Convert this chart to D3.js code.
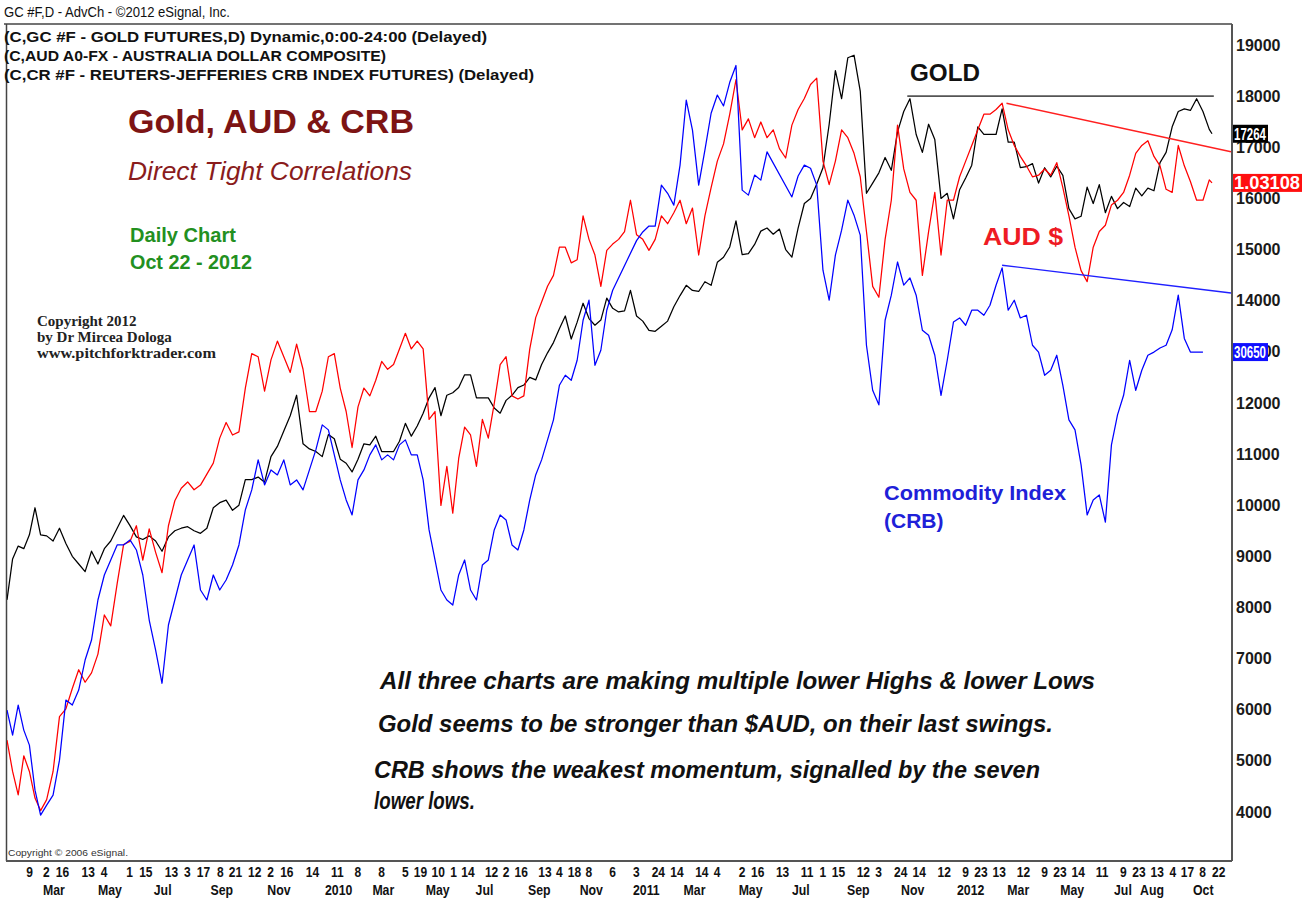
<!DOCTYPE html>
<html><head><meta charset="utf-8">
<script src="https://cdn.jsdelivr.net/npm/d3@7"></script>
<style>
html,body{margin:0;padding:0;background:#fff;}
svg{display:block;}
</style></head><body>
<svg id="chart" width="1308" height="899"></svg>
<script>
// ================= DATA =================
// weekly closes (Fridays) from 16 Jan 2009, last point = 22 Oct 2012
const weekDates = d3.timeFriday.range(new Date(2009, 0, 16), new Date(2012, 9, 20)).concat([new Date(2012, 9, 22)]);

// Gold futures, in the units of the price axis (GC x10)
const goldValues = [
  8150, 8950, 9200, 9150, 9420, 9950, 9420, 9400, 9300, 9550,
  9250, 9000, 8850, 8700, 9100, 8850, 9150, 9300, 9550, 9800,
  9600, 9380, 9330, 9400, 9300, 9100, 9380, 9500, 9550, 9580,
  9500, 9450, 9550, 9950, 10050, 10100, 9900, 10000, 10500, 10500,
  10550, 10450, 10950, 11150, 11450, 11750, 12150, 11200, 11100, 11050,
  10950, 11380, 11300, 10900, 10820, 10650, 10900, 11200, 11180, 11350,
  11050, 11050, 11050, 11250, 11600, 11350, 11550, 11800, 12100, 12300,
  11750, 12150, 12200, 12300, 12550, 12550, 12100, 12100, 12100, 11900,
  11800, 12050, 12150, 12300, 12350, 12500, 12450, 12750, 12980, 13180,
  13450, 13700, 13250, 13580, 13950, 13650, 13520, 13620, 14050, 13850,
  13780, 13800, 14200, 13700, 13600, 13420, 13400, 13500, 13600, 13880,
  14100, 14300, 14200, 14180, 14370, 14300, 14750, 14850, 15050, 15560,
  14900, 14920, 15100, 15360, 15420, 15300, 15400, 15000, 14850, 15420,
  15900, 16000, 16280, 16600, 17450, 18500, 17950, 18750, 18800, 18100,
  16100, 16300, 16500, 16800, 16550, 17300, 17700, 17950, 17250, 16900,
  17450, 17150, 16000, 16100, 15600, 16170, 16400, 16650, 17400, 17250,
  17250, 17250, 17750, 17100, 17100, 16600, 16620, 16680, 16300, 16600,
  16420, 16630, 16450, 15800, 15600, 15650, 16220, 15900, 16270, 15720,
  16040, 15800, 15920, 15840, 16200, 16050, 16200, 16150, 16700, 16900,
  17400, 17700, 17750, 17720, 17950, 17700, 17350, 17264
];

// Australian dollar composite (USD per AUD)
const audValues = [
  0.675, 0.655, 0.640, 0.665, 0.655, 0.638, 0.630, 0.637, 0.655, 0.690,
  0.695, 0.708, 0.720, 0.712, 0.718, 0.730, 0.755, 0.748, 0.775, 0.800,
  0.802, 0.812, 0.790, 0.810, 0.795, 0.782, 0.812, 0.828, 0.836, 0.840,
  0.835, 0.838, 0.845, 0.852, 0.868, 0.878, 0.870, 0.872, 0.900, 0.922,
  0.920, 0.898, 0.918, 0.930, 0.920, 0.910, 0.928, 0.912, 0.885, 0.885,
  0.898, 0.920, 0.922, 0.900, 0.885, 0.862, 0.888, 0.900, 0.895, 0.905,
  0.917, 0.912, 0.915, 0.925, 0.935, 0.925, 0.930, 0.925, 0.880, 0.885,
  0.825, 0.850, 0.820, 0.855, 0.875, 0.870, 0.850, 0.880, 0.868, 0.890,
  0.915, 0.920, 0.895, 0.893, 0.895, 0.925, 0.945, 0.955, 0.965, 0.972,
  0.990, 0.990, 0.980, 0.982, 1.010, 0.995, 0.985, 0.965, 0.988, 0.992,
  0.995, 1.000, 1.020, 0.998, 0.995, 0.988, 0.995, 1.010, 1.005, 1.012,
  1.020, 1.005, 1.015, 0.985, 1.010, 1.028, 1.045, 1.056, 1.075, 1.097,
  1.065, 1.072, 1.060, 1.070, 1.060, 1.065, 1.053, 1.047, 1.068, 1.078,
  1.085, 1.094, 1.098, 1.045, 1.030, 1.045, 1.065, 1.060, 1.050, 1.035,
  1.000, 0.965, 0.958, 0.995, 1.020, 1.068, 1.040, 1.025, 1.020, 0.972,
  1.000, 1.025, 0.985, 1.020, 1.020, 1.035, 1.045, 1.055, 1.065, 1.075,
  1.075, 1.078, 1.082, 1.065, 1.055, 1.048, 1.042, 1.035, 1.036, 1.040,
  1.036, 1.044, 1.028, 1.010, 0.990, 0.975, 0.968, 0.990, 1.000, 1.004,
  1.017, 1.020, 1.025, 1.036, 1.050, 1.055, 1.058, 1.048, 1.042, 1.027,
  1.025, 1.055, 1.042, 1.032, 1.020, 1.020, 1.033, 1.03108
];

// Reuters-Jefferies CRB index futures (null = no data, line bridges the gap)
const crbValues = [
  227.8, 222.3, 228.9, 223.4, 220.1, 210.2, 204.7, 206.9, 209.1, 216.8,
  230.0, 228.9, 232.2, 238.8, 243.2, 252.0, 257.5, 260.8, 264.1, 264.1,
  265.2, 263.0, 257.5, 247.6, 241.0, 233.7, 246.5, 252.0, 257.5, 260.8,
  264.1, 254.2, 252.0, 257.5, 254.2, 256.4, 259.7, 264.1, 271.8, 276.2,
  282.8, 277.3, 280.6, 279.5, 282.8, 277.3, 278.4, 276.2, 280.6, 285.0,
  290.5, 289.4, 283.9, 278.4, 274.0, 270.7, 278.4, 280.6, 283.9, 286.1,
  282.8, 283.9, 282.8, 286.1, 287.2, 283.9, 283.9, 278.4, 267.4, 260.8,
  254.2, 252.0, 250.9, 257.5, 260.8, 254.2, 252.0, 259.7, 260.8, 267.4,
  270.7, 269.6, 264.1, 263.0, 267.4, 274.0, 279.5, 282.8, 287.2, 291.6,
  299.2, 301.4, 300.3, 304.7, 313.5, 317.9, 303.6, 306.9, 315.7, 320.1,
  null, null, null, 331.0, 332.9, 334.2, 334.2, 343.2, 341.4, 338.8,
  347.6, 361.9, 355.3, 343.2, 350.9, 359.0, 363.0, 360.6, 365.8, 369.5,
  342.1, 341.0, 345.4, 344.3, 350.5, null, null, null, 340.6, 345.2,
  347.6, 346.9, 343.2, 324.5, 317.9, 327.8, 333.3, 339.9, 336.6, 332.2,
  308.0, 298.1, 294.9, 313.5, 319.0, 326.3, 321.2, 322.8, 319.0, 311.3,
  310.2, 305.8, 297.0, 304.7, 313.1, 314.0, 312.4, 315.7, 315.7, 314.6,
  316.8, 321.2, 325.0, 315.7, 317.9, 314.0, 314.6, 308.0, 306.5, 301.4,
  302.5, 305.8, 299.2, 291.6, 289.4, 281.7, 270.7, 274.0, 275.1, 269.1,
  286.1, 292.7, 297.0, 304.7, 298.1, 302.5, 305.8, 306.5, 307.4, 308.0,
  311.4, 319.0, 309.5, 306.5, 306.5, 306.5, null, null
];

// last prices shown in the axis boxes
const lastGold = 17264, lastAud = 1.03108, lastCrb = 306.50;

// hand-drawn trend lines: [date, value]
const goldResistance = [["2011-11-08", 18000], ["2012-10-24", 18000]];
const audTrend = [["2012-02-29", 1.082], ["2012-11-12", 1.051]];
const crbTrend = [["2012-02-24", 325.6], ["2012-11-12", 319.5]];

// axis ticks
const yTicks = [4000, 5000, 6000, 7000, 8000, 9000, 10000, 11000, 12000, 13000, 14000, 15000, 16000, 17000, 18000, 19000];
const dayTickDates = ["2009-02-09","2009-03-02","2009-03-16","2009-04-13","2009-05-04","2009-06-01","2009-06-15","2009-07-13","2009-08-03","2009-08-17","2009-09-08","2009-09-21","2009-10-12","2009-11-02","2009-11-16","2009-12-14","2010-01-11","2010-02-08","2010-03-08","2010-04-05","2010-04-19","2010-05-10","2010-06-01","2010-06-14","2010-07-12","2010-08-02","2010-08-16","2010-09-13","2010-10-04","2010-10-18","2010-11-08","2010-12-06","2011-01-03","2011-01-24","2011-02-14","2011-03-14","2011-04-04","2011-05-02","2011-05-16","2011-06-13","2011-07-11","2011-08-01","2011-08-15","2011-09-12","2011-10-03","2011-10-24","2011-11-14","2011-12-12","2012-01-09","2012-01-23","2012-02-13","2012-03-12","2012-04-09","2012-04-23","2012-05-14","2012-06-11","2012-07-09","2012-07-23","2012-08-13","2012-09-04","2012-09-17","2012-10-08","2012-10-22"];
const monthTickDates = ["2009-03-02","2009-05-01","2009-07-01","2009-09-01","2009-11-02","2010-01-04","2010-03-01","2010-05-03","2010-07-01","2010-09-01","2010-11-01","2011-01-03","2011-03-01","2011-05-02","2011-07-01","2011-09-01","2011-11-01","2012-01-03","2012-03-01","2012-05-01","2012-07-02","2012-08-01","2012-10-01"];
const monthTickLabels = ["Mar","May","Jul","Sep","Nov","2010","Mar","May","Jul","Sep","Nov","2011","Mar","May","Jul","Sep","Nov","2012","Mar","May","Jul","Aug","Oct"];

// ================= DRAWING =================
const FONT = '"Liberation Sans", Arial, Helvetica, sans-serif';
const SERIF = '"Liberation Serif", "Times New Roman", serif';
const parse = d3.timeParse("%Y-%m-%d");
const svg = d3.select("#chart");

// x: trading calendar, calibrated to the label row of the chart
const x = d3.scaleTime()
  .domain(["2009-01-16","2009-03-02","2010-01-04","2011-01-03","2012-01-03","2012-10-01","2012-10-22"].map(parse))
  .range([7, 43, 325, 633, 957, 1193, 1212]);
const yGold = d3.scaleLinear().domain([4000, 19000]).range([812, 45]);
const yAud = d3.scaleLinear().domain([0.6291, 1.1192]).range([812, 45]);
const yCrb = d3.scaleLinear().domain([205.4, 374.0]).range([812, 45]);

const L = 7, R = 1232, T = 24, B = 861;

svg.append("defs").append("clipPath").attr("id", "plotClip")
  .append("rect").attr("x", L).attr("y", T).attr("width", R - L).attr("height", B - T);

function condense(sel, f) {
  sel.each(function () {
    const w = this.getComputedTextLength();
    d3.select(this).attr("textLength", w * f).attr("lengthAdjust", "spacingAndGlyphs");
  });
  return sel;
}
function addText(txt, px, py, opt) {
  const t = svg.append("text").attr("x", px).attr("y", py).text(txt)
    .attr("font-family", opt.family || FONT)
    .attr("font-size", opt.size)
    .attr("font-weight", opt.weight || "normal")
    .attr("font-style", opt.style || "normal")
    .attr("fill", opt.fill || "#111");
  if (opt.width) t.attr("textLength", opt.width).attr("lengthAdjust", "spacingAndGlyphs");
  return t;
}

// frame
const frame = svg.append("g").attr("stroke", "#444").attr("fill", "none");
frame.append("line").attr("x1", 4).attr("x2", R).attr("y1", T).attr("y2", T).attr("stroke-width", 1.5);
frame.append("line").attr("x1", L - 0.5).attr("x2", L - 0.5).attr("y1", T).attr("y2", B).attr("stroke-width", 1.5);
frame.append("line").attr("x1", L - 1).attr("x2", R).attr("y1", B).attr("y2", B).attr("stroke-width", 2).attr("stroke", "#555");
frame.append("line").attr("x1", R).attr("x2", R).attr("y1", T).attr("y2", B).attr("stroke-width", 2).attr("stroke", "#555");

// series
const plot = svg.append("g").attr("clip-path", "url(#plotClip)");
function pts(values) {
  return weekDates.map((d, i) => ({ d, v: values[i] })).filter(p => p.v != null);
}
const mkLine = yS => d3.line().x(p => x(p.d)).y(p => yS(p.v));
plot.append("path").datum(pts(goldValues)).attr("d", mkLine(yGold))
  .attr("fill", "none").attr("stroke", "#000").attr("stroke-width", 1.25).attr("stroke-linejoin", "round");
plot.append("path").datum(pts(audValues)).attr("d", mkLine(yAud))
  .attr("fill", "none").attr("stroke", "#ff0000").attr("stroke-width", 1.25).attr("stroke-linejoin", "round");
plot.append("path").datum(pts(crbValues)).attr("d", mkLine(yCrb))
  .attr("fill", "none").attr("stroke", "#0000ff").attr("stroke-width", 1.25).attr("stroke-linejoin", "round");

// trend lines
function trend(arr, yS, color, w) {
  plot.append("line")
    .attr("x1", x(parse(arr[0][0]))).attr("y1", yS(arr[0][1]))
    .attr("x2", x(parse(arr[1][0]))).attr("y2", yS(arr[1][1]))
    .attr("stroke", color).attr("stroke-width", w);
}
trend(goldResistance, yGold, "#555", 1.6);
trend(audTrend, yAud, "#ff2020", 1.4);
trend(crbTrend, yCrb, "#2020ff", 1.4);

// right price axis
const ga = svg.append("g").attr("transform", `translate(${R},0)`)
  .call(d3.axisRight(yGold).tickValues(yTicks).tickSize(0).tickPadding(4).tickFormat(d3.format("d")));
ga.select(".domain").remove();
ga.attr("font-family", FONT).attr("font-size", 16).attr("font-weight", "bold");
ga.selectAll("text").attr("fill", "#1a1a1a");

// last-price boxes
function priceBox(label, yPos, bg, size, width) {
  const g = svg.append("g");
  g.append("rect").attr("x", R + 1).attr("y", yPos - 9).attr("width", width + 3).attr("height", 18).attr("fill", bg);
  g.append("text").attr("x", R + 2).attr("y", yPos + 6).text(label)
    .attr("font-family", FONT).attr("font-size", size).attr("font-weight", "bold").attr("fill", "#fff")
    .attr("textLength", width).attr("lengthAdjust", "spacingAndGlyphs");
}
priceBox(String(lastGold), yGold(lastGold), "#000", 16, 32);
priceBox(lastAud.toFixed(5), yAud(lastAud), "#ff1010", 18, 66);
priceBox((lastCrb * 100).toFixed(0), yCrb(lastCrb), "#1010ff", 16, 32);

// bottom time axis labels
const dayG = svg.append("g").attr("font-family", FONT).attr("font-size", 15).attr("font-weight", "bold").attr("fill", "#111");
dayG.selectAll("text").data(dayTickDates).join("text")
  .attr("x", d => x(parse(d))).attr("y", 877)
  .text(d => String(+d.slice(8)))
  .call(condense, 0.8);
const monG = svg.append("g").attr("font-family", FONT).attr("font-size", 15).attr("font-weight", "bold").attr("fill", "#111");
monG.selectAll("text").data(monthTickDates).join("text")
  .attr("x", d => x(parse(d))).attr("y", 895)
  .text((d, i) => monthTickLabels[i])
  .call(condense, 0.82);

// header
addText("GC #F,D - AdvCh - \u00A92012 eSignal, Inc.", 4, 17, { size: 14.5, width: 226 });
addText("(C,GC #F - GOLD FUTURES,D) Dynamic,0:00-24:00 (Delayed)", 4, 42, { size: 14.5, weight: "bold", width: 483 });
addText("(C,AUD A0-FX - AUSTRALIA DOLLAR COMPOSITE)", 4, 61, { size: 14.5, weight: "bold", width: 382 });
addText("(C,CR #F - REUTERS-JEFFERIES CRB INDEX FUTURES)  (Delayed)", 4, 80, { size: 14.5, weight: "bold", width: 530 });

// titles & notes
addText("Gold, AUD & CRB", 128, 133, { size: 33, weight: "bold", fill: "#7d1414", width: 286 });
addText("Direct Tight Correlations", 128, 180, { size: 26, style: "italic", fill: "#8a1c1c", width: 284 });
addText("Daily Chart", 130, 242, { size: 19.5, weight: "bold", fill: "#23901f", width: 106 });
addText("Oct 22 - 2012", 130, 269, { size: 19.5, weight: "bold", fill: "#23901f", width: 122 });
addText("Copyright 2012", 37, 326, { size: 15, weight: "bold", family: SERIF, fill: "#222" });
addText("by Dr Mircea Dologa", 37, 342, { size: 15, weight: "bold", family: SERIF, fill: "#222" });
addText("www.pitchforktrader.com", 37, 358, { size: 15, weight: "bold", family: SERIF, fill: "#222", width: 179 });

addText("GOLD", 910, 81, { size: 23, weight: "bold", fill: "#111", width: 70 });
addText("AUD $", 983, 245, { size: 24, weight: "bold", fill: "#ee1b24", width: 80 });
addText("Commodity Index", 884, 500, { size: 21, weight: "bold", fill: "#2020d8", width: 182 });
addText("(CRB)", 884, 528, { size: 21, weight: "bold", fill: "#2020d8" });

addText("All three charts are making multiple lower Highs & lower Lows", 380, 689, { size: 23, weight: "bold", style: "italic", fill: "#111", width: 715 });
addText("Gold seems to be stronger than $AUD, on their last swings.", 378, 732, { size: 23, weight: "bold", style: "italic", fill: "#111", width: 675 });
addText("CRB shows the weakest momentum, signalled by the seven", 374, 778, { size: 23, weight: "bold", style: "italic", fill: "#111", width: 666 });
addText("lower lows.", 374, 809, { size: 23, weight: "bold", style: "italic", fill: "#111", width: 101 });

addText("Copyright \u00A9 2006 eSignal.", 8, 856, { size: 9.5, fill: "#333", width: 120 });
</script>
</body></html>
